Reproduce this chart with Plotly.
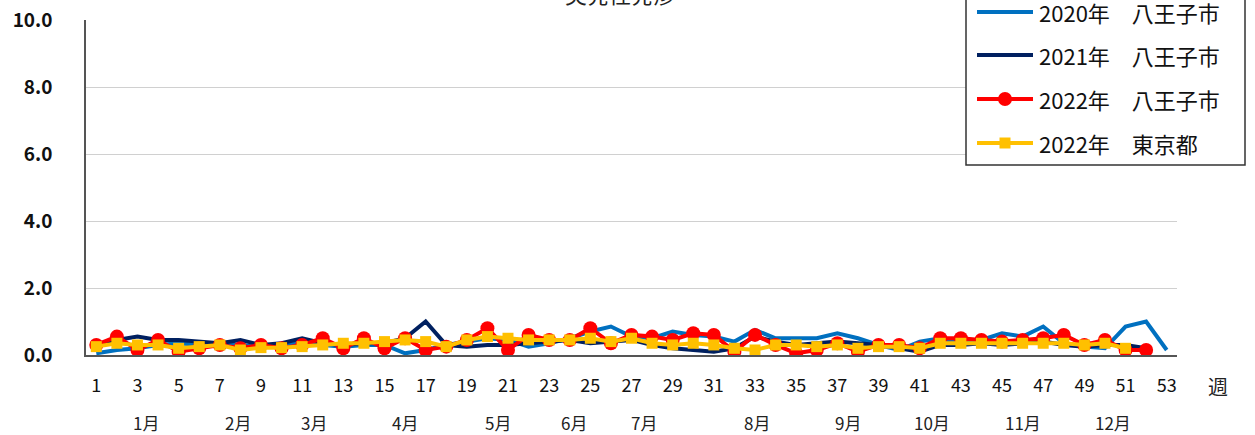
import plotly.graph_objects as go

# weekly values per sentinel
weeks = list(range(1, 54))

hachioji_2020 = [0.05, 0.15, 0.2, 0.3, 0.35, 0.3, 0.3, 0.3, 0.25, 0.3,
                 0.35, 0.3, 0.25, 0.3, 0.3, 0.05, 0.15, 0.3, 0.4, 0.5,
                 0.45, 0.25, 0.35, 0.5, 0.7, 0.85, 0.55, 0.5, 0.7, 0.6,
                 0.55, 0.4, 0.75, 0.5, 0.5, 0.5, 0.65, 0.5, 0.3, 0.15,
                 0.4, 0.5, 0.35, 0.45, 0.65, 0.55, 0.85, 0.35, 0.25, 0.2,
                 0.85, 1.0, 0.15]
hachioji_2021 = [0.3, 0.45, 0.55, 0.45, 0.45, 0.4, 0.35, 0.45, 0.3, 0.35,
                 0.5, 0.35, 0.3, 0.35, 0.35, 0.5, 1.0, 0.3, 0.25, 0.3,
                 0.3, 0.35, 0.4, 0.45, 0.35, 0.4, 0.45, 0.3, 0.2, 0.15,
                 0.1, 0.2, 0.55, 0.4, 0.3, 0.35, 0.4, 0.35, 0.3, 0.2,
                 0.1, 0.3, 0.3, 0.35, 0.3, 0.35, 0.4, 0.3, 0.25, 0.3,
                 0.3, 0.2]
hachioji_2022 = [0.3, 0.55, 0.15, 0.45, 0.1, 0.2, 0.3, 0.2, 0.3, 0.2,
                 0.3, 0.5, 0.2, 0.5, 0.2, 0.5, 0.15, 0.25, 0.45, 0.8,
                 0.15, 0.6, 0.45, 0.45, 0.8, 0.35, 0.6, 0.55, 0.45, 0.65,
                 0.6, 0.1, 0.6, 0.3, 0.05, 0.15, 0.35, 0.1, 0.3, 0.3,
                 0.2, 0.5, 0.5, 0.45, 0.4, 0.45, 0.5, 0.6, 0.3, 0.45,
                 0.15, 0.15]
tokyo_2022 = [0.25, 0.35, 0.3, 0.3, 0.2, 0.25, 0.3, 0.15, 0.22, 0.22,
              0.25, 0.3, 0.35, 0.35, 0.4, 0.45, 0.4, 0.25, 0.45, 0.55,
              0.5, 0.45, 0.45, 0.45, 0.5, 0.4, 0.5, 0.35, 0.3, 0.35,
              0.3, 0.2, 0.15, 0.3, 0.3, 0.25, 0.3, 0.2, 0.25, 0.25,
              0.2, 0.35, 0.35, 0.35, 0.35, 0.35, 0.35, 0.35, 0.3, 0.35,
              0.2]

series_names = ["2020年　八王子市", "2021年　八王子市", "2022年　八王子市", "2022年　東京都"]
months = ["1月", "2月", "3月", "4月", "5月", "6月", "7月", "8月", "9月", "10月", "11月", "12月"]
month_pos = [3.4, 7.9, 11.6, 16.0, 20.5, 24.2, 27.6, 33.1, 37.5, 41.6, 46.0, 50.4]

FONT = "Noto Sans CJK JP"
COLORS = ["#0070C0", "#002060", "#FF0000", "#FFC000"]

W, H = 1255, 435
L, R, T, B = 86, 1177, 20, 355   # plot area in page pixels


def px_x(p):
    return (p - L) / (R - L)


def px_y(p):
    return (B - p) / (B - T)


fig = go.Figure()
fig.add_trace(go.Scatter(x=weeks[:len(hachioji_2020)], y=hachioji_2020, mode="lines",
                         name=series_names[0], line=dict(color=COLORS[0], width=4)))
fig.add_trace(go.Scatter(x=weeks[:len(hachioji_2021)], y=hachioji_2021, mode="lines",
                         name=series_names[1], line=dict(color=COLORS[1], width=4)))
fig.add_trace(go.Scatter(x=weeks[:len(hachioji_2022)], y=hachioji_2022, mode="lines+markers",
                         name=series_names[2], line=dict(color=COLORS[2], width=4),
                         marker=dict(symbol="circle", size=14, color=COLORS[2])))
fig.add_trace(go.Scatter(x=weeks[:len(tokyo_2022)], y=tokyo_2022, mode="lines+markers",
                         name=series_names[3], line=dict(color=COLORS[3], width=4),
                         marker=dict(symbol="square", size=11, color=COLORS[3])))

annotations = [
    dict(text=m, x=p, y=px_y(423), xref="x", yref="paper", yanchor="middle",
         showarrow=False, font=dict(size=17, color="#222", family=FONT))
    for m, p in zip(months, month_pos)
]
annotations.append(dict(text="週", x=px_x(1218), y=px_y(386), xref="paper", yref="paper",
                        xanchor="center", yanchor="middle", showarrow=False,
                        font=dict(size=20, color="#222", family=FONT)))
annotations.append(dict(text="突発性発疹", x=px_x(620), y=px_y(-7), xref="paper", yref="paper",
                        yanchor="middle", showarrow=False,
                        font=dict(size=22, color="#222", family=FONT)))

# hand-drawn legend box, as in the original
shapes = [dict(type="rect", xref="paper", yref="paper", layer="above",
               x0=px_x(966), x1=px_x(1245), y0=px_y(165), y1=px_y(-10),
               line=dict(color="#333", width=1.5), fillcolor="white")]
item_y = [12, 55, 99, 143]
for i, (name, col) in enumerate(zip(series_names, COLORS)):
    yy = item_y[i]
    shapes.append(dict(type="line", xref="paper", yref="paper", layer="above",
                       x0=px_x(977), x1=px_x(1033), y0=px_y(yy), y1=px_y(yy),
                       line=dict(color=col, width=4)))
    if i == 2:
        shapes.append(dict(type="circle", xref="paper", yref="paper", layer="above",
                           x0=px_x(998), x1=px_x(1012), y0=px_y(yy + 7), y1=px_y(yy - 7),
                           line=dict(width=0), fillcolor=col))
    if i == 3:
        shapes.append(dict(type="rect", xref="paper", yref="paper", layer="above",
                           x0=px_x(999.5), x1=px_x(1010.5), y0=px_y(yy + 5.5), y1=px_y(yy - 5.5),
                           line=dict(width=0), fillcolor=col))
    annotations.append(dict(text=name, x=px_x(1037), y=px_y(yy), xref="paper", yref="paper",
                            xanchor="left", yanchor="middle", showarrow=False,
                            font=dict(size=22, color="#111", family=FONT)))

fig.update_layout(
    width=W, height=H,
    margin=dict(l=L, r=W - R, t=T, b=H - B, autoexpand=False),
    paper_bgcolor="white", plot_bgcolor="white",
    font=dict(family=FONT, size=18, color="#111"),
    showlegend=False,
    annotations=annotations,
    shapes=shapes,
)
fig.update_xaxes(range=[0.5, 53.5], tickvals=list(range(1, 54, 2)),
                 showgrid=False, showline=True, linecolor="#555", linewidth=1.5,
                 ticks="", ticklabelstandoff=14, tickfont=dict(size=18))
fig.update_yaxes(range=[0, 10], dtick=2, tickformat=".1f",
                 showgrid=True, gridcolor="#d0d0d0", gridwidth=1,
                 showline=True, linecolor="#555", linewidth=1.5, zeroline=False,
                 ticks="", ticklabelstandoff=28,
                 tickfont=dict(size=19, family=FONT, weight="bold"))

fig.write_html("out.html", config={"displayModeBar": False},
               post_script="document.body.style.margin = '0';")
